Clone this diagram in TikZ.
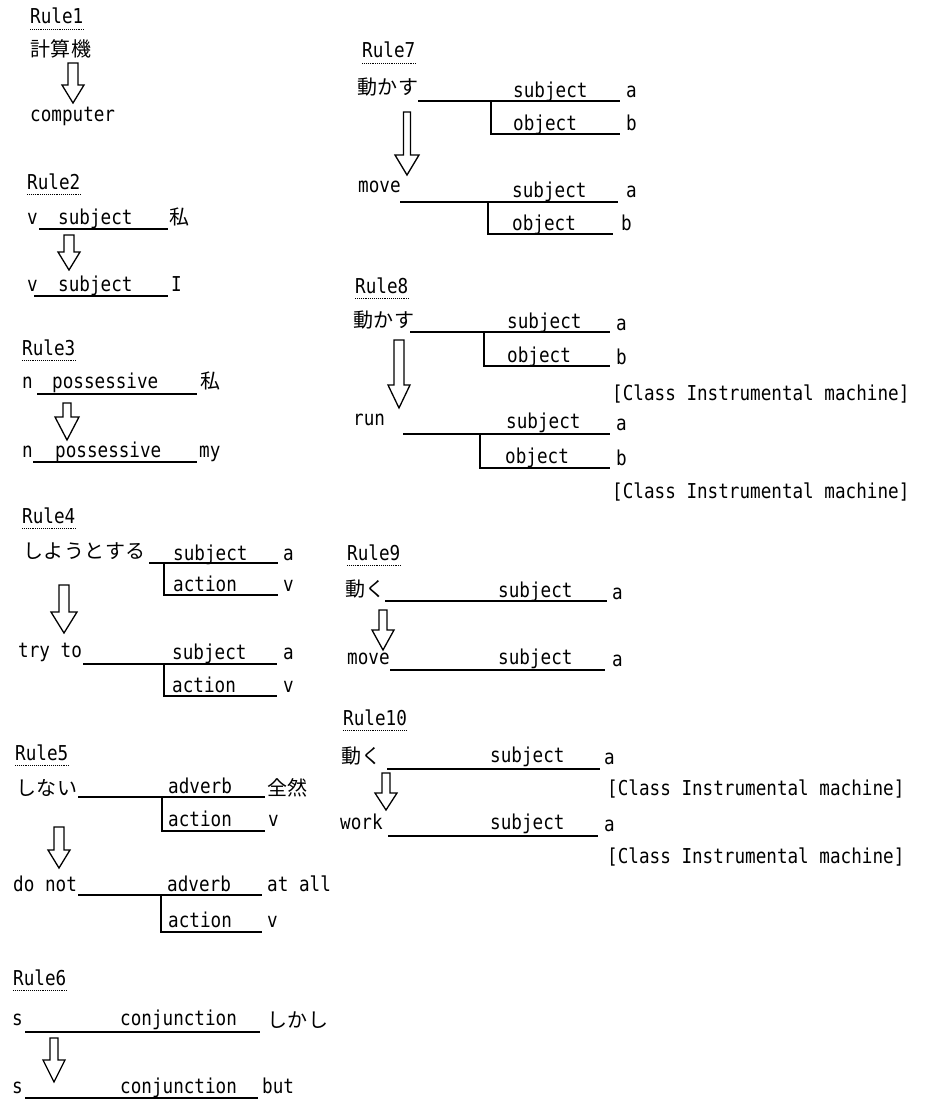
\documentclass[tikz,border=0pt]{standalone}
\usepackage{fontspec}
\usepackage{tikz}
\newfontfamily\monofont[FakeStretch=0.86]{DejaVu Sans Mono}
\newfontfamily\jpfont[LetterSpace=3]{Noto Sans CJK JP}

\begin{document}
\begin{tikzpicture}[x=1pt,y=-1pt,
    txt/.style={anchor=base west,inner sep=0pt,font=\monofont\fontsize{20.5}{22}\selectfont},
    jp/.style={anchor=base west,inner sep=0pt,font=\jpfont\fontsize{20}{22}\selectfont},
    tree/.style={line width=1.8pt,black},
    dotline/.style={line width=0.9pt,densely dotted},
    bigarrow/.style={line width=1.3pt,black,line join=miter}]
    \useasboundingbox (0,0) rectangle (930,1108);

    % Rule1 - Rule6
    \node[txt] (lab1) at (30,24) {Rule1};
    \node[jp] (src1) at (30,57) {計算機};
    \node[txt] (dst1) at (30,121) {computer};

    \node[txt] (lab2) at (27,189) {Rule2};
    \node[txt] (src2) at (27,224) {v};
    \node[txt] (rel2a) at (58,224) {subject};
    \node[jp] (val2a) at (169,224) {私};
    \node[txt] (dst2) at (27,291) {v};
    \node[txt] (rel2b) at (58,291) {subject};
    \node[txt] (val2b) at (171,291) {I};

    \node[txt] (lab3) at (22,355) {Rule3};
    \node[txt] (src3) at (22,388) {n};
    \node[txt] (rel3a) at (52,388) {possessive};
    \node[jp] (val3a) at (200,388) {私};
    \node[txt] (dst3) at (22,457) {n};
    \node[txt] (rel3b) at (55,457) {possessive};
    \node[txt] (val3b) at (199,457) {my};

    \node[txt] (lab4) at (22,523) {Rule4};
    \node[jp] (src4) at (23,558) {しようとする};
    \node[txt] (rel4a) at (173,560) {subject};
    \node[txt] (val4a) at (283,560) {a};
    \node[txt] (rel4b) at (173,591) {action};
    \node[txt] (val4b) at (283,591) {v};
    \node[txt] (dst4) at (18,657) {try to};
    \node[txt] (rel4c) at (172,659) {subject};
    \node[txt] (val4c) at (283,659) {a};
    \node[txt] (rel4d) at (172,692) {action};
    \node[txt] (val4d) at (283,692) {v};

    \node[txt] (lab5) at (15,760) {Rule5};
    \node[jp] (src5) at (16,795) {しない};
    \node[txt] (rel5a) at (168,793) {adverb};
    \node[jp] (val5a) at (267,795) {全然};
    \node[txt] (rel5b) at (168,826) {action};
    \node[txt] (val5b) at (268,826) {v};
    \node[txt] (dst5) at (13,891) {do not};
    \node[txt] (rel5c) at (167,891) {adverb};
    \node[txt] (val5c) at (267,891) {at all};
    \node[txt] (rel5d) at (168,927) {action};
    \node[txt] (val5d) at (267,927) {v};

    \node[txt] (lab6) at (13,985) {Rule6};
    \node[txt] (src6) at (12,1025) {s};
    \node[txt] (rel6a) at (120,1025) {conjunction};
    \node[jp] (val6a) at (267,1027) {しかし};
    \node[txt] (dst6) at (12,1093) {s};
    \node[txt] (rel6b) at (120,1093) {conjunction};
    \node[txt] (val6b) at (262,1093) {but};

    % Rule7 - Rule10
    \node[txt] (lab7) at (362,58) {Rule7};
    \node[jp] (src7) at (357,95) {動かす};
    \node[txt] (rel7a) at (513,97) {subject};
    \node[txt] (val7a) at (626,97) {a};
    \node[txt] (rel7b) at (513,130) {object};
    \node[txt] (val7b) at (626,130) {b};
    \node[txt] (dst7) at (358,192) {move};
    \node[txt] (rel7c) at (512,197) {subject};
    \node[txt] (val7c) at (626,197) {a};
    \node[txt] (rel7d) at (512,230) {object};
    \node[txt] (val7d) at (621,230) {b};

    \node[txt] (lab8) at (355,293) {Rule8};
    \node[jp] (src8) at (353,327) {動かす};
    \node[txt] (rel8a) at (507,328) {subject};
    \node[txt] (val8a) at (616,330) {a};
    \node[txt] (rel8b) at (507,362) {object};
    \node[txt] (val8b) at (616,364) {b};
    \node[txt] (cls8a) at (612,400) {[Class Instrumental machine]};
    \node[txt] (dst8) at (353,425) {run};
    \node[txt] (rel8c) at (506,428) {subject};
    \node[txt] (val8c) at (616,430) {a};
    \node[txt] (rel8d) at (505,463) {object};
    \node[txt] (val8d) at (616,465) {b};
    \node[txt] (cls8b) at (612,498) {[Class Instrumental machine]};

    \node[txt] (lab9) at (347,560) {Rule9};
    \node[jp] (src9) at (345,596) {動く};
    \node[txt] (rel9a) at (498,597) {subject};
    \node[txt] (val9a) at (612,599) {a};
    \node[txt] (dst9) at (347,664) {move};
    \node[txt] (rel9b) at (498,664) {subject};
    \node[txt] (val9b) at (612,666) {a};

    \node[txt] (lab10) at (343,725) {Rule10};
    \node[jp] (src10) at (341,763) {動く};
    \node[txt] (rel10a) at (490,762) {subject};
    \node[txt] (val10a) at (604,764) {a};
    \node[txt] (cls10a) at (607,795) {[Class Instrumental machine]};
    \node[txt] (dst10) at (340,829) {work};
    \node[txt] (rel10b) at (490,829) {subject};
    \node[txt] (val10b) at (604,831) {a};
    \node[txt] (cls10b) at (607,863) {[Class Instrumental machine]};

    % dotted rule under each label
    \foreach \n in {1,...,10} {
        \draw [dotline] ([yshift=-5pt]lab\n.base west) -- ([yshift=-5pt]lab\n.base east);
    }

    % main lines: from/to/y
    \foreach \a/\b/\y in {39/168/229, 34/168/296, 37/197/394, 33/197/462,
                          149/278/563, 83/277/664, 78/265/797, 78/262/895,
                          25/260/1032, 25/258/1098,
                          418/620/101, 400/618/202, 410/610/332, 403/610/434,
                          385/607/601, 390/605/670, 387/600/769, 388/598/836} {
        \draw [tree] (\a,\y) -- (\b,\y);
    }

    % branches: x/top/bottom/end
    \foreach \x/\t/\u/\e in {164/563/595/278, 164/664/696/277, 162/797/831/265,
                             161/895/932/262, 491/101/134/620, 488/202/234/613,
                             484/332/366/610, 480/434/468/610} {
        \draw [tree] (\x,\t) -- (\x,\u) -- (\e,\u);
    }

    % hollow arrows: x/top/head/tip/shaft/half
    \foreach \x/\t/\h/\p/\s/\w in {73/63/85/103/5/11, 69/235/252/270/5/11,
                                   67/403/417/440/4/12, 64/585/612/633/5/13,
                                   59/827/850/868/5/11, 54/1038/1060/1082/4/11,
                                   407/112/155/175/3.5/12, 399/340/385/408/5/11,
                                   383/610/630/650/4/11, 386/773/793/810/4/11} {
        \draw [bigarrow] (\x-\s,\t) -- (\x+\s,\t) -- (\x+\s,\h) -- (\x+\w,\h)
            -- (\x,\p) -- (\x-\w,\h) -- (\x-\s,\h) -- cycle;
    }
\end{tikzpicture}
\end{document}
